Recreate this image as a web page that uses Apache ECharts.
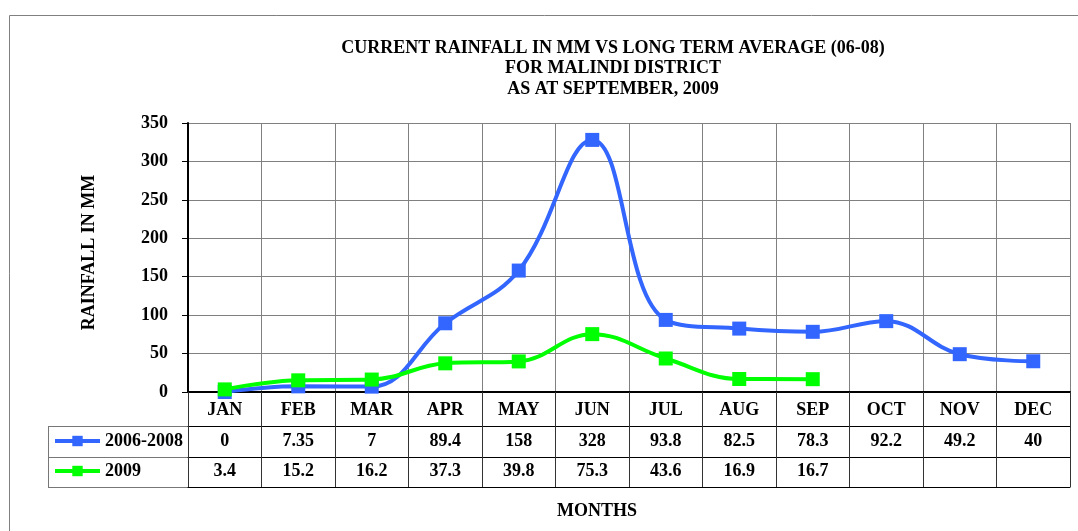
<!DOCTYPE html>
<html>
<head>
<meta charset="utf-8">
<script src="https://cdn.jsdelivr.net/npm/echarts@6/dist/echarts.min.js"></script>
<style>
  html, body { margin: 0; padding: 0; background: #fff; }
  #chart { width: 1078px; height: 531px; }
</style>
</head>
<body>
<div id="chart"></div>
<script>
const months = ['JAN', 'FEB', 'MAR', 'APR', 'MAY', 'JUN', 'JUL', 'AUG', 'SEP', 'OCT', 'NOV', 'DEC']
const avg0608 = [0, 7.35, 7, 89.4, 158, 328, 93.8, 82.5, 78.3, 92.2, 49.2, 40]
const rain2009 = [3.4, 15.2, 16.2, 37.3, 39.8, 75.3, 43.6, 16.9, 16.7, null, null, null]
const yMin = 0
const yMax = 350
const yStep = 50

const serif = '"Liberation Serif", "Times New Roman", serif'
const blue = '#3366ff'
const green = '#00ff00'

// table cells text from the data
const cell = v => (v == null ? '' : String(v))

const chart = echarts.init(document.getElementById('chart'))

const labelStyle = {
  fontFamily: serif,
  fontWeight: 'bold',
  fontSize: 18,
  color: '#000'
}

// axes below the plot used as the data table rows
function tableAxis(data, offset, margin) {
  return {
    type: 'category',
    position: 'bottom',
    offset: offset,
    data: data,
    boundaryGap: true,
    axisLine: { show: true, lineStyle: { color: '#000', width: 1 } },
    axisTick: { show: false },
    splitLine: { show: false },
    axisLabel: Object.assign({ show: true, interval: 0, margin: margin }, labelStyle)
  }
}

chart.setOption({
  animation: false,
  title: [
    {
      text: 'CURRENT RAINFALL IN MM VS LONG TERM AVERAGE (06-08)\nFOR MALINDI DISTRICT\nAS AT SEPTEMBER, 2009',
      left: 613,
      top: 38,
      padding: 0,
      textAlign: 'center',
      textStyle: Object.assign({ lineHeight: 20.5 }, labelStyle)
    },
    {
      text: 'MONTHS',
      left: 597,
      top: 502,
      padding: 0,
      textAlign: 'center',
      textStyle: labelStyle
    }
  ],
  legend: {
    orient: 'vertical',
    left: 53,
    top: 432,
    itemWidth: 45,
    itemHeight: 13,
    itemGap: 12,
    padding: 0,
    lineStyle: { width: 4 },
    textStyle: labelStyle,
    data: ['2006-2008', '2009']
  },
  grid: {
    left: 188,
    right: 8,
    top: 123,
    bottom: 139,
    containLabel: false
  },
  xAxis: [
    {
      type: 'category',
      data: months,
      boundaryGap: true,
      axisLine: { show: true, lineStyle: { color: '#000', width: 2 } },
      axisTick: { show: true, interval: 0, length: 95, lineStyle: { color: '#333' } },
      splitLine: { show: true, interval: 0, lineStyle: { color: '#808080', width: 1 } },
      axisLabel: Object.assign({ interval: 0, margin: 9 }, labelStyle)
    },
    tableAxis(avg0608.map(cell), 34, 6),
    tableAxis(rain2009.map(cell), 65, 5),
    Object.assign(tableAxis(months.map(() => ''), 95, 5), { axisLabel: { show: false } })
  ],
  yAxis: {
    type: 'value',
    min: yMin,
    max: yMax,
    interval: yStep,
    name: 'RAINFALL IN MM',
    nameLocation: 'middle',
    nameGap: 90,
    nameRotate: 90,
    nameTextStyle: Object.assign({ padding: [0, 0, 0, 10] }, labelStyle),
    axisLine: { show: true, lineStyle: { color: '#000', width: 2 } },
    axisTick: { show: true, length: 6, lineStyle: { color: '#000' } },
    splitLine: { show: true, lineStyle: { color: '#808080', width: 1 } },
    axisLabel: Object.assign({ margin: 20 }, labelStyle)
  },
  graphic: [
    // outer chart frame
    {
      type: 'rect',
      shape: { x: 9.5, y: 15.5, width: 1200, height: 600 },
      style: { fill: null, stroke: '#808080', lineWidth: 1 },
      silent: true
    },
    // legend column of the table
    { type: 'line', shape: { x1: 48, y1: 426.5, x2: 188, y2: 426.5 }, style: { stroke: '#777', lineWidth: 1 } },
    { type: 'line', shape: { x1: 48, y1: 457.5, x2: 188, y2: 457.5 }, style: { stroke: '#777', lineWidth: 1 } },
    { type: 'line', shape: { x1: 48, y1: 487.5, x2: 188, y2: 487.5 }, style: { stroke: '#777', lineWidth: 1 } },
    { type: 'line', shape: { x1: 48.5, y1: 426, x2: 48.5, y2: 488 }, style: { stroke: '#777', lineWidth: 1 } }
  ],
  series: [
    {
      name: '2006-2008',
      type: 'line',
      data: avg0608,
      smooth: 0.4,
      symbol: 'rect',
      symbolSize: 14,
      lineStyle: { color: blue, width: 4 },
      itemStyle: { color: blue },
      z: 3
    },
    {
      name: '2009',
      type: 'line',
      data: rain2009,
      smooth: 0.4,
      symbol: 'rect',
      symbolSize: 14,
      lineStyle: { color: green, width: 4 },
      itemStyle: { color: green },
      z: 4
    }
  ]
})

window.addEventListener('resize', () => {
  chart.resize()
})
</script>
</body>
</html>
